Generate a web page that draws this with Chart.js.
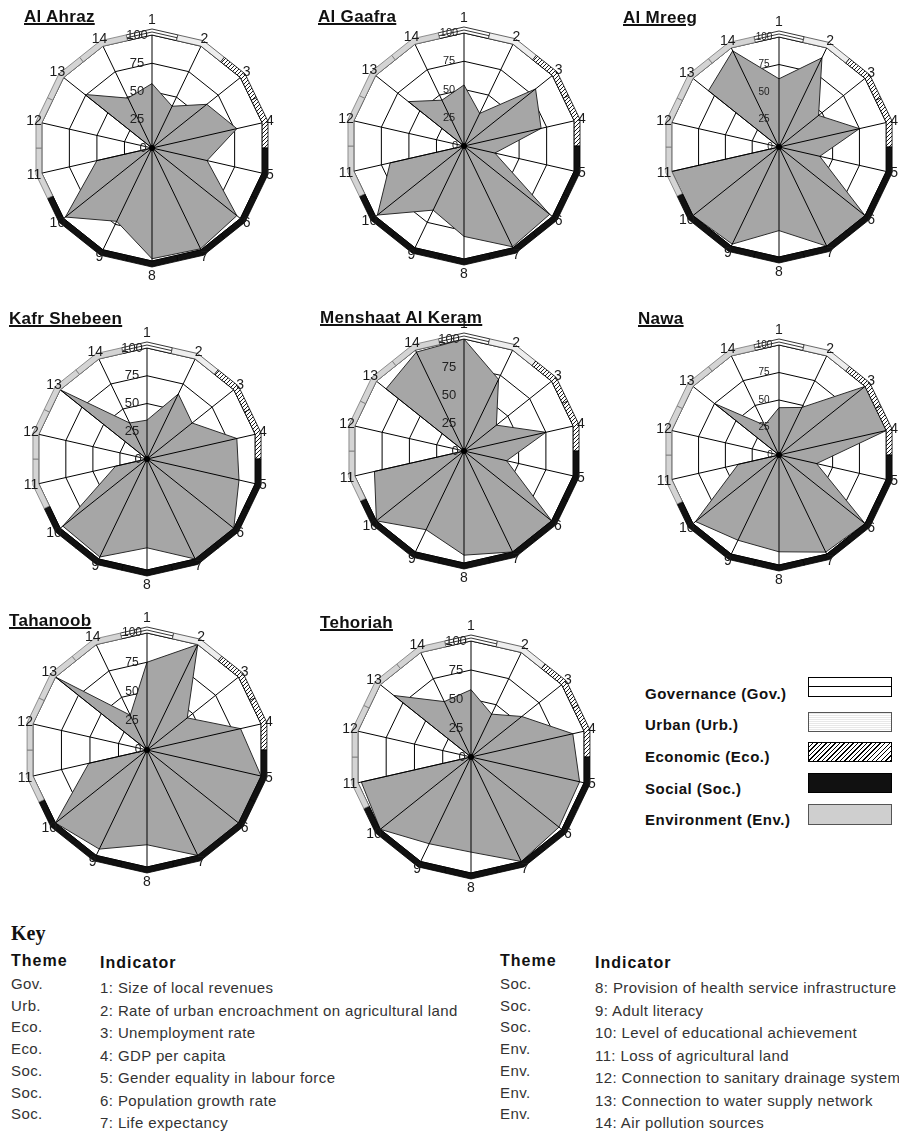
<!DOCTYPE html>
<html>
<head>
<meta charset="utf-8">
<script src="https://cdn.jsdelivr.net/npm/chart.js@4.4.0/dist/chart.umd.min.js"></script>
<style>
    body { margin: 0; width: 899px; height: 1131px; position: relative; overflow: hidden; background: #fff;
           font-family: 'Liberation Sans', Arial, sans-serif; color: #111; }
    .t { position: absolute; white-space: nowrap; line-height: 1; }
    .title { font-weight: bold; font-size: 17px; letter-spacing: 0.3px; text-decoration: underline;
             text-decoration-thickness: 2px; text-underline-offset: 1px; }
    .leg { font-weight: bold; font-size: 15px; letter-spacing: 0.5px; }
    .box { position: absolute; left: 808px; width: 82px; height: 18px; border: 1px solid #000; }
    .key { font-family: 'Liberation Serif', 'Times New Roman', serif; font-weight: bold; font-size: 20px; }
    .head { font-weight: bold; font-size: 16px; letter-spacing: 1px; }
    .row { font-size: 15px; letter-spacing: 0.4px; color: #333; }
    canvas { position: absolute; }
</style>
</head>
<body>
<script>
// indicators 1..14 and the theme each one belongs to
const indicators = ['1', '2', '3', '4', '5', '6', '7', '8', '9', '10', '11', '12', '13', '14'];
const indicatorThemes = ['Gov', 'Urb', 'Eco', 'Eco', 'Soc', 'Soc', 'Soc', 'Soc', 'Soc', 'Soc', 'Env', 'Env', 'Env', 'Env'];
const tickValues = [0, 25, 50, 75, 100];

// scores per village (0-100)
const alAhraz = [57, 41, 62, 77, 50, 96, 99, 98, 72, 98, 50, 0, 76, 49];
const alGaafra = [54, 32, 81, 70, 28, 97, 99, 80, 63, 98, 67, 0, 63, 45];
const alMreeg = [62, 90, 46, 75, 38, 100, 100, 76, 98, 100, 100, 0, 82, 97];
const kafrShebeen = [35, 65, 52, 83, 85, 100, 100, 80, 98, 97, 29, 0, 100, 36];
const menshaatAlKeram = [100, 71, 37, 75, 39, 100, 100, 93, 78, 100, 82, 0, 89, 98];
const nawa = [43, 48, 100, 100, 35, 100, 98, 88, 86, 97, 38, 0, 75, 30];
const tahanoob = [75, 100, 44, 82, 100, 100, 100, 81, 94, 100, 51, 0, 100, 33];
const tehoriah = [58, 41, 56, 90, 96, 97, 100, 82, 83, 100, 97, 0, 85, 53];

const themeNames = ['Governance (Gov.)', 'Urban (Urb.)', 'Economic (Eco.)', 'Social (Soc.)', 'Environment (Env.)'];

const keyThemesLeft = ['Gov.', 'Urb.', 'Eco.', 'Eco.', 'Soc.', 'Soc.', 'Soc.'];
const keyIndicatorsLeft = ['1: Size of local revenues', '2: Rate of urban encroachment on agricultural land',
    '3: Unemployment rate', '4: GDP per capita', '5: Gender equality in labour force',
    '6: Population growth rate', '7: Life expectancy'];
const keyThemesRight = ['Soc.', 'Soc.', 'Soc.', 'Env.', 'Env.', 'Env.', 'Env.'];
const keyIndicatorsRight = ['8: Provision of health service infrastructure', '9: Adult literacy',
    '10: Level of educational achievement', '11: Loss of agricultural land',
    '12: Connection to sanitary drainage system', '13: Connection to water supply network',
    '14: Air pollution sources'];

// layout of the panels
const panels = [
    { title: 'Al Ahraz', data: alAhraz, cx: 152, cy: 148, r: 113, tx: 24, ty: 8, tick: 13 },
    { title: 'Al Gaafra', data: alGaafra, cx: 464, cy: 146, r: 113, tx: 318, ty: 8, tick: 11 },
    { title: 'Al Mreeg', data: alMreeg, cx: 779, cy: 147, r: 110, tx: 623, ty: 9, tick: 10 },
    { title: 'Kafr Shebeen', data: kafrShebeen, cx: 147, cy: 459, r: 111, tx: 9, ty: 310, tick: 13 },
    { title: 'Menshaat Al Keram', data: menshaatAlKeram, cx: 464, cy: 451, r: 112, tx: 320, ty: 309, tick: 13 },
    { title: 'Nawa', data: nawa, cx: 779, cy: 455, r: 110, tx: 638, ty: 310, tick: 10 },
    { title: 'Tahanoob', data: tahanoob, cx: 147, cy: 750, r: 117, tx: 9, ty: 612, tick: 12 },
    { title: 'Tehoriah', data: tehoriah, cx: 471, cy: 757, r: 116, tx: 320, ty: 614, tick: 13 }
];

const MARGIN = 45;
const BAND = 6;
const FONT = "'Liberation Sans', Arial, sans-serif";

function makeHatch() {
    const c = document.createElement('canvas');
    c.width = 4; c.height = 4;
    const g = c.getContext('2d');
    g.fillStyle = '#fff';
    g.fillRect(0, 0, 4, 4);
    g.strokeStyle = '#000';
    g.lineWidth = 0.9;
    g.beginPath();
    g.moveTo(0, 4); g.lineTo(4, 0);
    g.moveTo(-1, 1); g.lineTo(1, -1);
    g.moveTo(3, 5); g.lineTo(5, 3);
    g.stroke();
    return c;
}
const hatchCanvas = makeHatch();

function bandStyle(ctx, theme) {
    if (theme === 'Gov') return { fill: '#fff', stroke: '#000' };
    if (theme === 'Urb') return { fill: '#eeeeee', stroke: '#444' };
    if (theme === 'Eco') return { fill: ctx.createPattern(hatchCanvas, 'repeat'), stroke: '#000' };
    if (theme === 'Soc') return { fill: '#111', stroke: '#000' };
    return { fill: '#d4d4d4', stroke: '#777' };
}

// spokes, theme band, tick and point labels drawn over the polygon
const decorPlugin = {
    id: 'decor',
    afterDatasetsDraw(chart, args, opts) {
        const scale = chart.scales.r;
        const ctx = chart.ctx;
        const n = chart.data.labels.length;
        const cx = scale.xCenter, cy = scale.yCenter;
        const d = scale.getDistanceFromCenterForValue(100);
        const at = (i, r) => scale.getPointPosition(((i % n) + n) % n, r);
        const mid = (i, r) => {
            const a = at(i, r), b = at(i + 1, r);
            return { x: (a.x + b.x) / 2, y: (a.y + b.y) / 2 };
        };
        ctx.save();

        // spokes
        ctx.strokeStyle = '#000';
        ctx.lineWidth = 1;
        for (let i = 0; i < n; i++) {
            const p = at(i, d);
            ctx.beginPath();
            ctx.moveTo(cx, cy);
            ctx.lineTo(p.x, p.y);
            ctx.stroke();
        }

        // theme band round the outer ring
        for (let i = 0; i < n; i++) {
            const st = bandStyle(ctx, indicatorThemes[i]);
            const pts = [mid(i - 1, d), at(i, d), mid(i, d), mid(i, d + BAND), at(i, d + BAND), mid(i - 1, d + BAND)];
            ctx.beginPath();
            pts.forEach((p, j) => j ? ctx.lineTo(p.x, p.y) : ctx.moveTo(p.x, p.y));
            ctx.closePath();
            ctx.fillStyle = st.fill;
            ctx.fill();
            ctx.strokeStyle = st.stroke;
            ctx.lineWidth = 0.8;
            ctx.stroke();
            if (indicatorThemes[i] === 'Gov') {
                const m = d + BAND / 2;
                const a = mid(i - 1, m), b = at(i, m), c = mid(i, m);
                ctx.beginPath();
                ctx.moveTo(a.x, a.y); ctx.lineTo(b.x, b.y); ctx.lineTo(c.x, c.y);
                ctx.stroke();
            }
        }

        // centre dot
        ctx.fillStyle = '#000';
        ctx.beginPath();
        ctx.arc(cx, cy, 3, 0, Math.PI * 2);
        ctx.fill();

        // tick labels on axis 1
        ctx.font = opts.tick + 'px ' + FONT;
        ctx.fillStyle = '#222';
        ctx.textAlign = 'center';
        ctx.textBaseline = 'middle';
        tickValues.forEach(function (v) {
            const y = cy - scale.getDistanceFromCenterForValue(v);
            ctx.fillText(String(v), v === 0 ? cx - 9 : cx - 15, y);
        });

        // point labels
        ctx.font = '14px ' + FONT;
        ctx.fillStyle = '#1a1a1a';
        for (let i = 0; i < n; i++) {
            const off = (i === 0 || i === 7) ? 15 : 8;
            const p = at(i, d + off);
            ctx.fillText(chart.data.labels[i], p.x, p.y);
        }
        ctx.restore();
    }
};

function addText(cls, text, x, y) {
    const el = document.createElement('div');
    el.className = 't ' + cls;
    el.textContent = text;
    el.style.left = x + 'px';
    el.style.top = y + 'px';
    document.body.appendChild(el);
    return el;
}

panels.forEach(function (p) {
    const size = 2 * p.r + 2 * MARGIN;
    const canvas = document.createElement('canvas');
    canvas.width = size;
    canvas.height = size;
    canvas.style.left = (p.cx - p.r - MARGIN) + 'px';
    canvas.style.top = (p.cy - p.r - MARGIN) + 'px';
    document.body.appendChild(canvas);

    new Chart(canvas, {
        type: 'radar',
        data: {
            labels: indicators,
            datasets: [{
                data: p.data,
                fill: true,
                backgroundColor: '#a6a6a6',
                borderColor: '#2b2b2b',
                borderWidth: 1,
                pointRadius: 0
            }]
        },
        options: {
            responsive: false,
            animation: false,
            events: [],
            layout: { padding: MARGIN },
            plugins: {
                legend: { display: false },
                tooltip: { enabled: false },
                decor: { tick: p.tick }
            },
            scales: {
                r: {
                    min: 0,
                    max: 100,
                    ticks: { display: false, stepSize: 25 },
                    grid: { color: '#000', lineWidth: 1 },
                    angleLines: { display: false },
                    pointLabels: { display: false }
                }
            }
        },
        plugins: [decorPlugin]
    });

    addText('title', p.title, p.tx, p.ty);
});

// theme legend
const legendTextY = [686, 717, 749, 781, 812];
const legendBoxY = [677, 712, 742, 773, 804];
const legendBoxCss = [
    'background: linear-gradient(to bottom, #fff 0 8px, #000 8px 9px, #fff 9px 18px);',
    'background: repeating-linear-gradient(0deg, #fff 0 1px, #e8e8e8 1px 2px); border-color:#555;',
    'background: repeating-linear-gradient(135deg, #fff 0 2.2px, #000 2.2px 3.2px);',
    'background: #111;',
    'background: #cfcfcf; border-color:#555; height:19px;'
];
themeNames.forEach(function (name, i) {
    addText('leg', name, 645, legendTextY[i]);
    const b = document.createElement('div');
    b.className = 'box';
    b.style.cssText = 'top:' + legendBoxY[i] + 'px;' + legendBoxCss[i];
    document.body.appendChild(b);
});

// key table
addText('key', 'Key', 11, 923);
addText('head', 'Theme', 11, 953);
addText('head', 'Indicator', 100, 955);
addText('head', 'Theme', 500, 953);
addText('head', 'Indicator', 595, 955);
keyThemesLeft.forEach(function (s, i) { addText('row', s, 11, 976 + i * 21.7); });
keyIndicatorsLeft.forEach(function (s, i) { addText('row', s, 100, 980 + i * 22.5); });
keyThemesRight.forEach(function (s, i) { addText('row', s, 500, 976 + i * 21.7); });
keyIndicatorsRight.forEach(function (s, i) { addText('row', s, 595, 980 + i * 22.5); });
</script>
</body>
</html>
